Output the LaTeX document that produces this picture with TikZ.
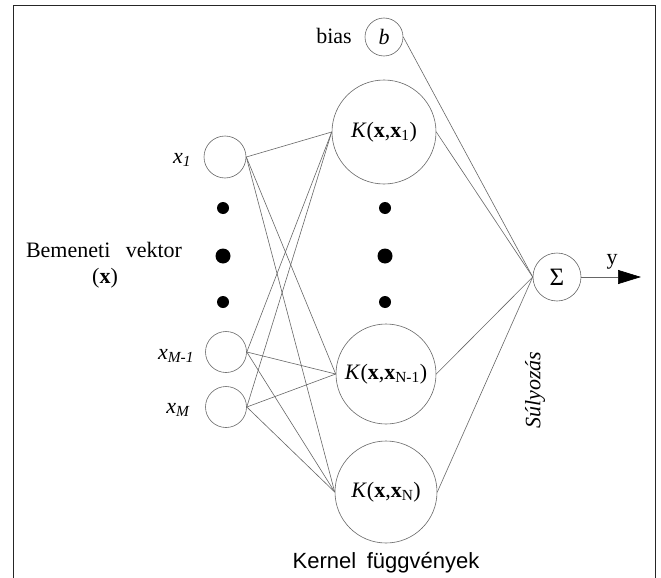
\documentclass[tikz,border=0pt]{standalone}
\usepackage{fontspec}
\setmainfont{Liberation Serif}
\newfontfamily\sansf{Liberation Sans}
\usetikzlibrary{arrows.meta}
\begin{document}
\begin{tikzpicture}[x=1pt,y=-1pt,
  neuron/.style={circle,draw=black!60,line width=0.6pt,inner sep=0pt,font=\fontsize{22}{24}\selectfont},
  conn/.style={draw=black!60,line width=0.6pt},
  bigdot/.style={circle,fill=black,inner sep=0pt,minimum size=#1},
  lbl/.style={font=\fontsize{22}{24}\selectfont,inner sep=0pt}]
\useasboundingbox (0,0) rectangle (661,578);
\draw[line width=1pt,black!85] (13,578) -- (13,6) -- (655,6) -- (655,578);

% input layer
\node[neuron,minimum size=42pt] (x1) at (225,157) {};
\node[neuron,minimum size=41pt] (xm1) at (226,352) {};
\node[neuron,minimum size=41pt] (xm) at (226,407) {};
\node[bigdot=12pt] (ld1) at (223,208) {};
\node[bigdot=15pt] (ld2) at (223,256) {};
\node[bigdot=12pt] (ld3) at (223,302) {};

\node[lbl] (lx1) at (182,160) {\textit{x\textsubscript{1}}};
\node[lbl] (lxm1) at (176,356) {\textit{x\textsubscript{M-1}}};
\node[lbl] (lxm) at (178,410) {\textit{x\textsubscript{M}}};
\node[lbl] (bv) at (104,250) {Bemeneti\hspace{0.45em} vektor};
\node[lbl] (bvx) at (105,278) {(\textbf{x})};

% bias
\node[neuron,minimum size=38pt] (b) at (384,37) {\textit{b}};
\node[lbl] (bias) at (334,36) {bias};

% kernel layer
\node[neuron,minimum size=104pt] (k1) at (384,132) {\textit{K}(\textbf{x},\textbf{x}\textsubscript{1})};
\node[neuron,minimum size=100pt] (kn1) at (386,374) {\textit{K}(\textbf{x},\textbf{x}\textsubscript{N-1})};
\node[neuron,minimum size=102pt] (kn) at (386,492) {\textit{K}(\textbf{x},\textbf{x}\textsubscript{N})};
\node[bigdot=12pt] (md1) at (385,208) {};
\node[bigdot=15pt] (md2) at (385,256) {};
\node[bigdot=12pt] (md3) at (385,302) {};
\node[lbl,font=\sansf\fontsize{22}{24}\selectfont] (kf) at (386,563) {Kernel\hspace{0.2em} függvények};

% output
\node[neuron,minimum size=48pt,font=\fontsize{25}{27}\selectfont] (sig) at (557,277) {Σ};
\coordinate (yend) at (641,277);
\node[lbl] (ylab) at (612,262) {y};
\node[lbl,rotate=90] (suly) at (535,390) {\textit{Súlyozás}};

% connections input -> kernel
\foreach \i in {x1,xm1,xm}{
  \foreach \k in {k1,kn1,kn}{
    \draw[conn] (\i.east) -- (\k.west);
  }
}
% kernel -> sum
\foreach \k in {b,k1,kn1,kn}{
  \draw[conn] (\k.east) -- (sig.west);
}
\draw[conn,-{Triangle[length=23pt,width=14pt,fill=black,color=black]}] (sig.east) -- (yend);
\end{tikzpicture}
\end{document}
